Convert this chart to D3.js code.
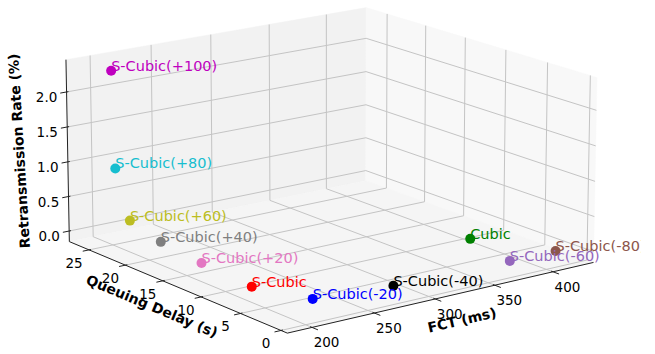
<!DOCTYPE html>
<html><head><meta charset="utf-8">
<script src="https://cdn.jsdelivr.net/npm/d3@7"></script>
<style>
body{margin:0;background:#fff}
text{font-family:"DejaVu Sans",sans-serif}
</style></head>
<body><svg id="chart" width="655" height="354"></svg>
<script>
// Variants and their measured results
const variants = ["S-Cubic(+100)", "S-Cubic(+80)", "S-Cubic(+60)", "S-Cubic(+40)", "S-Cubic(+20)",
  "S-Cubic", "S-Cubic(-20)", "S-Cubic(-40)", "Cubic", "S-Cubic(-60)", "S-Cubic(-80)"];
const fctMs = [206, 197, 200, 216, 210, 206, 222, 281, 388, 377, 416];
const queuingDelayS = [25.9, 24.0, 22.6, 21.1, 14.7, 7.6, 2.5, 1.5, 7.5, 1.2, 1.1];
const retransRate = [2.29, 1.0, 0.3, 0, 0, 0, 0, 0, 0, 0, 0];
const colors = ["#bf00bf", "#17becf", "#bcbd22", "#7f7f7f", "#e377c2", "#ff0000",
  "#0000ff", "#000000", "#008000", "#9467bd", "#8c564b"];

// Axis limits and ticks
const fctLim = [180.5, 435.5], delayLim = [-0.77, 27.76], rateLim = [-0.154, 2.459];
const fctTicks = [200, 250, 300, 350, 400];
const delayTicks = [0, 5, 10, 15, 20, 25];
const rateTicks = [0, 0.5, 1.0, 1.5, 2.0];

// Camera of the 3D box
const view = {azim: -126.86, elev: 15.52, dist: 3882, half: [189.4, 187.1, 95.2], cx: 329.1, cy: 160.8};

const sx = d3.scaleLinear().domain(fctLim).range([-1, 1]);
const sy = d3.scaleLinear().domain(delayLim).range([-1, 1]);
const sz = d3.scaleLinear().domain(rateLim).range([-1, 1]);

const rad = Math.PI / 180;
const ca = Math.cos(view.azim * rad), sa = Math.sin(view.azim * rad);
const ce = Math.cos(view.elev * rad), se = Math.sin(view.elev * rad);

// project normalized box coords (-1..1) to the page
function project(nx, ny, nz) {
  const px = nx * view.half[0], py = ny * view.half[1], pz = nz * view.half[2];
  const u = -px * sa + py * ca;
  const v = -px * se * ca - py * se * sa + pz * ce;
  const w = px * ce * ca + py * ce * sa + pz * se;
  const f = view.dist / (view.dist - w);
  return [view.cx + u * f, view.cy - v * f];
}
const P = (x, y, z) => project(sx(x), sy(y), sz(z));

const svg = d3.select("#chart");
const line = d3.line();
const [x0, x1] = fctLim, [y0, y1] = delayLim, [z0, z1] = rateLim;

// panes
const panes = [
  {pts: [[x0, y1, z0], [x1, y1, z0], [x1, y1, z1], [x0, y1, z1]], fill: "#f2f2f2"},
  {pts: [[x1, y0, z0], [x1, y1, z0], [x1, y1, z1], [x1, y0, z1]], fill: "#f8f8f8"},
  {pts: [[x0, y0, z0], [x1, y0, z0], [x1, y1, z0], [x0, y1, z0]], fill: "#f5f5f5"}
];
svg.append("g").selectAll("path").data(panes).join("path")
  .attr("d", d => line(d.pts.map(p => P(...p))) + "Z")
  .attr("fill", d => d.fill).attr("stroke", d => d.fill).attr("stroke-width", 0.5);

// grid lines
const grid = [];
fctTicks.forEach(t => { grid.push([[t, y0, z0], [t, y1, z0]]); grid.push([[t, y1, z0], [t, y1, z1]]); });
delayTicks.forEach(t => { grid.push([[x0, t, z0], [x1, t, z0]]); grid.push([[x1, t, z0], [x1, t, z1]]); });
rateTicks.forEach(t => { grid.push([[x0, y1, t], [x1, y1, t]]); grid.push([[x1, y0, t], [x1, y1, t]]); });
svg.append("g").selectAll("path").data(grid).join("path")
  .attr("d", d => line(d.map(p => P(...p))))
  .attr("fill", "none").attr("stroke", "#c4c4c4").attr("stroke-width", 1);

// axis lines
const axes = [
  [[x0, y0, z0], [x1, y0, z0]],
  [[x0, y0, z0], [x0, y1, z0]],
  [[x0, y1, z0], [x0, y1, z1]]
];
svg.append("g").selectAll("path").data(axes).join("path")
  .attr("d", d => line(d.map(p => P(...p))))
  .attr("fill", "none").attr("stroke", "#222").attr("stroke-width", 1);

// tick marks
const dX = (x1 - x0), dY = (y1 - y0);
const marks = [];
fctTicks.forEach(t => marks.push([[t, y0 + 0.008 * dY, z0], [t, y0 - 0.025 * dY, z0]]));
delayTicks.forEach(t => marks.push([[x0 + 0.006 * dX, t, z0], [x0 - 0.02 * dX, t, z0]]));
rateTicks.forEach(t => marks.push([[x0 + 0.006 * dX, y1, t], [x0 - 0.02 * dX, y1, t]]));
svg.append("g").selectAll("path").data(marks).join("path")
  .attr("d", d => line(d.map(p => P(...p))))
  .attr("fill", "none").attr("stroke", "#222").attr("stroke-width", 1);

// tick labels
const tickFont = 13.5;
function tickLabels(data, pos, dx, dy, fmt) {
  svg.append("g").selectAll("text").data(data).join("text")
    .attr("x", d => pos(d)[0] + dx).attr("y", d => pos(d)[1] + dy)
    .attr("text-anchor", "middle").attr("dominant-baseline", "central")
    .attr("font-size", tickFont).attr("fill", "#000").text(fmt);
}
tickLabels(fctTicks, t => P(t, y0, z0), 14.5, 15, d => d);
tickLabels(delayTicks, t => P(x0, t, z0), -15, 13, d => d);
tickLabels(rateTicks, t => P(x0, y1, t), -20, 5, d3.format(".1f"));

// axis titles
const titles = [
  {text: "Retransmission Rate (%)", x: 19, y: 151, rot: -93.5},
  {text: "Queuing Delay (s)", x: 152, y: 306, rot: 22.7},
  {text: "FCT (ms)", x: 462, y: 320, rot: -13}
];
svg.append("g").selectAll("text").data(titles).join("text")
  .attr("transform", d => `translate(${d.x},${d.y}) rotate(${d.rot})`)
  .attr("text-anchor", "middle").attr("dominant-baseline", "central")
  .attr("font-size", 14).attr("font-weight", "bold").attr("fill", "#000")
  .text(d => d.text);

// points and their labels
const idx = d3.range(variants.length);
svg.append("defs").append("clipPath").attr("id", "fig")
  .append("rect").attr("x", 0).attr("y", 0).attr("width", 641).attr("height", 354);
svg.append("g").selectAll("circle").data(idx).join("circle")
  .attr("cx", i => P(fctMs[i], queuingDelayS[i], retransRate[i])[0])
  .attr("cy", i => P(fctMs[i], queuingDelayS[i], retransRate[i])[1])
  .attr("r", 5).attr("fill", i => colors[i]);
svg.append("g").attr("clip-path", "url(#fig)").selectAll("text").data(idx).join("text")
  .attr("x", i => P(fctMs[i], queuingDelayS[i], retransRate[i])[0])
  .attr("y", i => P(fctMs[i], queuingDelayS[i], retransRate[i])[1])
  .attr("font-size", 14.5).attr("fill", i => colors[i])
  .text(i => variants[i]);
</script></body></html>
